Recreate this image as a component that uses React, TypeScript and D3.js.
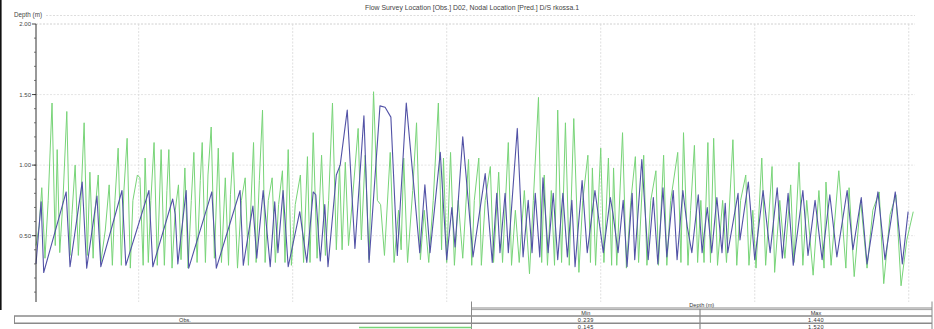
import React from "react";
import * as d3 from "d3";

// Observed depth (Flow Survey Location D02) — hours from start, metres
const obsHours = [
  0, 0.8, 1.2, 4.7, 5.3, 7.2, 7.9, 9.5, 10.1, 13.4, 14.0, 17.6, 18.2, 21.3, 21.7, 22.1, 23.4, 23.8,
  27.4, 28.1, 31.8, 32.3, 33.8, 34.4, 35.4, 36.5, 37.2, 37.7, 38.5, 39.3, 41.1, 42.2, 43.2, 43.6,
  44.3, 45.0, 45.5, 46.8, 47.4, 48.5, 49.7, 51.1, 51.9, 53.6, 54.4, 55.3, 56.3, 57.7, 58.8, 59.8,
  60.6, 61.4, 63.0, 64.0, 64.8, 65.3, 66.5, 68.1, 70.0, 71.1, 71.8, 72.3, 73.1, 73.6, 75.0, 75.9,
  76.7, 77.3, 77.8, 78.5, 79.0, 79.8, 80.6, 81.3, 82.1, 82.8, 83.5, 84.0, 85.1, 85.9, 87.1, 88.4,
  89.5, 89.9, 90.7, 91.5, 92.1, 92.9, 93.3, 94.4, 95.4, 96.2, 96.9, 97.7, 98.3, 99.3, 99.9, 100.8,
  101.5, 102.2, 103.2, 103.8, 104.6, 105.3, 106.1, 106.9, 107.4, 107.8, 109.4, 109.7, 111.0, 112.0,
  113.3, 114.4, 115.5, 116.3, 117.2, 118.0, 119.5, 120.3, 121.4, 122.5, 123.7, 124.8, 126.4, 127.3,
  128.6, 129.5, 131.2, 132.3, 133.9, 135.0, 135.9,
];
const obsDepth = [
  0.30, 0.74, 0.239, 0.81, 0.28, 0.88, 0.27, 0.78, 0.28, 0.82, 0.29, 0.82, 0.28, 0.76, 0.65, 0.30, 0.82, 0.27,
  0.81, 0.27, 0.82, 0.29, 0.71, 0.34, 0.82, 0.28, 0.74, 0.38, 0.82, 0.28, 0.67, 0.31, 0.81, 0.79,
  0.32, 0.72, 0.28, 0.93, 1.00, 1.39, 0.41, 1.35, 0.31, 1.42, 1.41, 1.34, 0.36, 1.44, 0.89, 0.38,
  0.86, 0.38, 1.09, 0.33, 0.70, 0.42, 1.20, 0.35, 0.94, 0.31, 0.80, 0.38, 0.80, 0.38, 1.26, 0.35,
  0.75, 0.38, 0.80, 0.35, 0.91, 0.38, 0.80, 0.33, 0.80, 0.35, 0.75, 0.28, 0.89, 0.38, 0.82, 0.38,
  0.77, 0.66, 0.38, 0.75, 0.28, 0.80, 0.33, 1.04, 0.33, 0.77, 0.30, 0.84, 0.35, 0.82, 0.33, 0.82,
  0.56, 0.38, 0.79, 0.38, 0.70, 0.38, 0.77, 0.38, 0.73, 0.38, 0.80, 0.47, 0.88, 0.33,
  0.82, 0.38, 0.84, 0.34, 0.80, 0.29, 0.82, 0.36, 0.75, 0.33, 0.79, 0.35, 0.82, 0.40,
  0.77, 0.30, 0.81, 0.33, 0.81, 0.30, 0.67,
];

// Predicted depth (Nodal Location D/S rkossa.1) — hours from start, metres
const predHours = [
  0.0, 0.5, 0.9, 1.4, 1.9, 2.5, 3.0, 3.3, 3.7, 4.2, 4.8, 5.3, 5.6, 6.1, 6.6, 7.0, 7.5, 8.0, 8.4, 8.9,
  9.2, 9.7, 10.1, 10.8, 11.4, 11.9, 12.3, 12.8, 13.3, 13.7, 14.2, 14.7, 15.1, 15.8, 16.2, 16.7, 17.0,
  17.5, 17.9, 18.4, 18.9, 19.5, 20.0, 20.4, 20.7, 21.2, 21.7, 22.2, 22.6, 23.2, 23.7, 24.2, 24.6,
  25.1, 25.6, 25.9, 26.4, 26.8, 27.3, 27.8, 28.4, 28.9, 29.5, 30.0, 30.3, 30.7, 31.4, 32.0, 32.6,
  33.1, 33.9, 34.3, 34.8, 35.3, 35.7, 36.2, 36.8, 37.3, 37.8, 38.4, 38.8, 39.3, 39.8, 40.4, 41.2,
  41.7, 42.3, 42.7, 43.2, 43.8, 44.5, 45.1, 45.6, 46.2, 46.8, 47.3, 47.7, 48.2, 48.7, 49.3, 50.2,
  50.7, 51.3, 51.9, 52.6, 53.2, 53.7, 54.3, 55.2, 55.8, 56.5, 56.9, 57.3, 57.9, 58.7, 59.3, 59.9,
  60.5, 61.2, 61.9, 62.7, 63.2, 63.5, 64.0, 64.6, 65.2, 65.8, 66.5, 67.4, 67.9, 68.3, 69.0, 69.4,
  70.0, 70.8, 71.3, 72.1, 72.7, 73.6, 74.1, 74.7, 75.3, 76.1, 76.9, 77.5, 78.3, 78.8, 79.2, 79.7,
  80.3, 80.8, 81.3, 81.9, 82.5, 83.1, 83.8, 84.6, 85.2, 86.0, 86.4, 86.7, 87.2, 88.0, 88.5, 89.2,
  89.7, 90.0, 90.5, 91.4, 92.0, 92.7, 93.4, 93.9, 94.7, 95.2, 95.8, 96.6, 97.0, 97.8, 98.3, 98.9,
  100.0, 100.5, 100.9, 101.6, 102.0, 102.6, 103.1, 103.6, 104.1, 104.7, 105.1, 105.6, 106.2, 107.0,
  107.6, 108.6, 109.2, 109.8, 110.6, 111.1, 111.7, 112.2, 113.1, 113.7, 114.7, 115.1, 115.9, 116.7,
  117.6, 118.1, 118.9, 119.5, 120.1, 121.1, 122.0, 122.8, 123.1, 123.9, 125.1, 126.2, 126.7, 127.5,
  128.5, 129.5, 130.4, 131.4, 132.1, 133.1, 134.0, 134.8, 135.7, 136.7,
];
const predDepth = [
  0.43, 0.57, 0.84, 0.34, 0.75, 1.44, 0.43, 1.11, 0.38, 0.75, 1.38, 0.36, 0.65, 1.00, 0.36, 0.75, 1.30, 0.36, 0.95, 0.34,
  0.68, 0.93, 0.31, 0.54, 0.86, 0.29, 0.75, 1.12, 0.29, 0.82, 1.19, 0.27, 0.75, 0.93, 0.91, 0.29, 1.05,
  0.31, 0.75, 1.16, 0.29, 1.11, 0.29, 0.82, 1.11, 0.27, 0.68, 0.86, 0.33, 0.98, 0.27, 0.75, 1.09,
  0.31, 0.89, 1.16, 0.31, 0.93, 1.27, 0.34, 1.12, 0.31, 0.91, 0.29, 0.79, 1.09, 0.27, 0.75, 0.91,
  0.29, 1.16, 0.31, 0.89, 1.39, 0.31, 0.75, 0.91, 0.31, 0.72, 0.96, 0.31, 1.11, 0.29, 0.72, 0.93,
  0.31, 1.06, 0.31, 1.23, 0.34, 1.07, 0.36, 0.75, 1.44, 0.40, 1.00, 0.40, 1.02, 0.43, 0.75, 1.26,
  0.47, 1.07, 0.33, 1.52, 0.75, 0.72, 0.36, 1.09, 0.31, 0.68, 0.40, 1.05, 0.31, 0.82, 1.30, 0.33,
  0.68, 0.31, 0.75, 1.44, 0.40, 1.05, 0.31, 1.09, 0.29, 0.75, 0.34, 1.04, 0.29, 0.75, 1.05, 0.29,
  0.75, 0.99, 0.31, 0.95, 0.31, 1.16, 0.29, 0.68, 0.31, 0.82, 0.23, 0.75, 1.48, 0.31, 0.93, 0.29,
  0.82, 0.29, 1.39, 0.31, 1.30, 0.29, 1.33, 0.24, 0.75, 1.07, 0.31, 0.98, 0.29, 1.12, 0.31, 1.05,
  0.29, 0.98, 0.29, 1.23, 0.27, 0.75, 1.06, 0.31, 1.07, 0.29, 0.75, 0.96, 0.29, 1.07, 0.29, 0.75,
  1.09, 0.31, 1.23, 0.29, 0.68, 1.14, 0.31, 0.75, 0.31, 1.16, 0.31, 1.19, 0.29, 0.75,
  0.31, 1.18, 0.29, 0.75, 0.93, 0.29, 0.68, 0.27, 1.05, 0.29, 0.99, 0.24, 0.75, 0.34,
  0.86, 0.31, 1.02, 0.29, 0.75, 0.22, 0.82, 0.27, 0.88, 0.29, 0.96, 0.27, 0.84, 0.21,
  0.75, 0.27, 0.68, 0.81, 0.16, 0.65, 0.79, 0.145, 0.47, 0.67,
];

const yTicks = [0.5, 1.0, 1.5, 2.0];
const dayBoundaries = [16, 40, 64, 88, 112, 136];

const title = "Flow Survey Location [Obs.] D02, Nodal Location [Pred.] D/S  rkossa.1";
const tableHeader = "Depth (m)";
const statColumns = ["Min", "Max"];
const obsStats = ["0.239", "1.440"];
const predStats = ["0.145", "1.520"];
const obsLabel = "Obs.";

const OBS_COLOR = "#5252a6";
const PRED_COLOR = "#78d478";
const FONT = "'Liberation Sans', Arial, sans-serif";

export default function App() {
  const W = 934;
  const H = 329;
  const left = 36;
  const right = 912.6;
  const top = 24;
  const bottom = 302;

  const x = d3.scaleLinear().domain([0, 136.6]).range([left, right]);
  const y = d3.scaleLinear().domain([0.03, 2.0]).range([bottom, top]);

  const line = d3
    .line<[number, number]>()
    .x((d) => x(d[0]))
    .y((d) => y(d[1]));

  const obsPts: [number, number][] = obsHours.map((h, i) => [h, obsDepth[i]]);
  const predPts: [number, number][] = predHours.map((h, i) => [h, predDepth[i]]);

  const minorTicks = d3.range(1, 20).map((k) => k / 10);

  const tableLeft = 471.5;
  const tableRight = 932;
  const colSplit = 700;
  const colMin = (tableLeft + colSplit) / 2;
  const colMax = (colSplit + tableRight) / 2;
  const rowLine = "#8a8a8a";

  return (
    <svg
      width={W}
      height={H}
      style={{ position: "absolute", left: 0, top: 0, background: "#fff" }}
      fontFamily={FONT}
    >
      <rect x={0} y={0} width={W} height={H} fill="#fff" />
      <rect x={0} y={0} width={1.6} height={310} fill="#111" />

      {/* title */}
      <text x={472} y={10} fontSize={6.9} fill="#444" textAnchor="middle">
        {title}
      </text>

      {/* frame top and grid */}
      <line x1={46} x2={915} y1={15.5} y2={15.5} stroke="#d4d4d4" strokeWidth={0.8} strokeDasharray="2,1.5" />
      {yTicks.map((t) => (
        <line
          key={"gy" + t}
          x1={left}
          x2={915}
          y1={y(t)}
          y2={y(t)}
          stroke={t === 2 ? "#c4c4c4" : "#dedede"}
          strokeWidth={0.8}
          strokeDasharray="2,1.5"
        />
      ))}
      {dayBoundaries.map((h) => (
        <line
          key={"gx" + h}
          x1={x(h)}
          x2={x(h)}
          y1={top}
          y2={bottom}
          stroke="#d8d8d8"
          strokeWidth={0.8}
          strokeDasharray="2,1.5"
        />
      ))}

      {/* series */}
      <path d={line(predPts) || ""} fill="none" stroke={PRED_COLOR} strokeWidth={1} strokeLinejoin="round" />
      <path d={line(obsPts) || ""} fill="none" stroke={OBS_COLOR} strokeWidth={1.1} strokeLinejoin="round" />

      {/* y axis */}
      <text x={14} y={17} fontSize={6.3} fill="#444">
        Depth (m)
      </text>
      <line x1={left} x2={left} y1={top} y2={bottom} stroke="#333" strokeWidth={1} />
      {minorTicks.map((t) => (
        <line key={"mt" + t} x1={left - 2} x2={left} y1={y(t)} y2={y(t)} stroke="#555" strokeWidth={0.8} />
      ))}
      {yTicks.map((t) => (
        <g key={"yt" + t}>
          <line x1={left - 4} x2={left} y1={y(t)} y2={y(t)} stroke="#333" strokeWidth={0.9} />
          <text x={31} y={y(t) + 2} fontSize={6} fill="#444" textAnchor="end">
            {d3.format(".2f")(t)}
          </text>
        </g>
      ))}

      {/* statistics table */}
      <line x1={tableLeft} x2={tableLeft} y1={301.5} y2={329} stroke={rowLine} strokeWidth={1} />
      <text x={(tableLeft + tableRight) / 2} y={307} fontSize={5.6} fill="#333" textAnchor="middle">
        {tableHeader}
      </text>
      <line x1={tableLeft} x2={tableRight} y1={308} y2={308} stroke={rowLine} strokeWidth={1} />
      <line x1={tableLeft} x2={tableRight} y1={309.6} y2={309.6} stroke={rowLine} strokeWidth={0.8} />
      <line x1={colSplit} x2={colSplit} y1={309} y2={329} stroke={rowLine} strokeWidth={1.2} />
      {statColumns.map((c, i) => (
        <text key={c} x={i === 0 ? colMin : colMax} y={314.5} fontSize={5.6} fill="#333" textAnchor="middle">
          {c}
        </text>
      ))}
      <line x1={14} x2={tableRight} y1={316} y2={316} stroke={rowLine} strokeWidth={1.4} />
      <line x1={14} x2={tableRight} y1={323.3} y2={323.3} stroke={rowLine} strokeWidth={1.4} />
      <line x1={14.5} x2={14.5} y1={316} y2={323.3} stroke={rowLine} strokeWidth={1} />
      <line x1={tableRight} x2={tableRight} y1={301.5} y2={329} stroke={rowLine} strokeWidth={1} />
      <text x={185} y={321.8} fontSize={5.6} fill="#333" textAnchor="middle">
        {obsLabel}
      </text>
      {obsStats.map((s, i) => (
        <text key={"o" + i} x={i === 0 ? colMin : colMax} y={321.8} fontSize={5.6} fill="#333" textAnchor="middle" letterSpacing={0.4}>
          {s}
        </text>
      ))}
      <line x1={359} x2={tableLeft} y1={327.5} y2={327.5} stroke={PRED_COLOR} strokeWidth={1.6} />
      {predStats.map((s, i) => (
        <text key={"p" + i} x={i === 0 ? colMin : colMax} y={329} fontSize={5.6} fill="#333" textAnchor="middle" letterSpacing={0.4}>
          {s}
        </text>
      ))}
    </svg>
  );
}
